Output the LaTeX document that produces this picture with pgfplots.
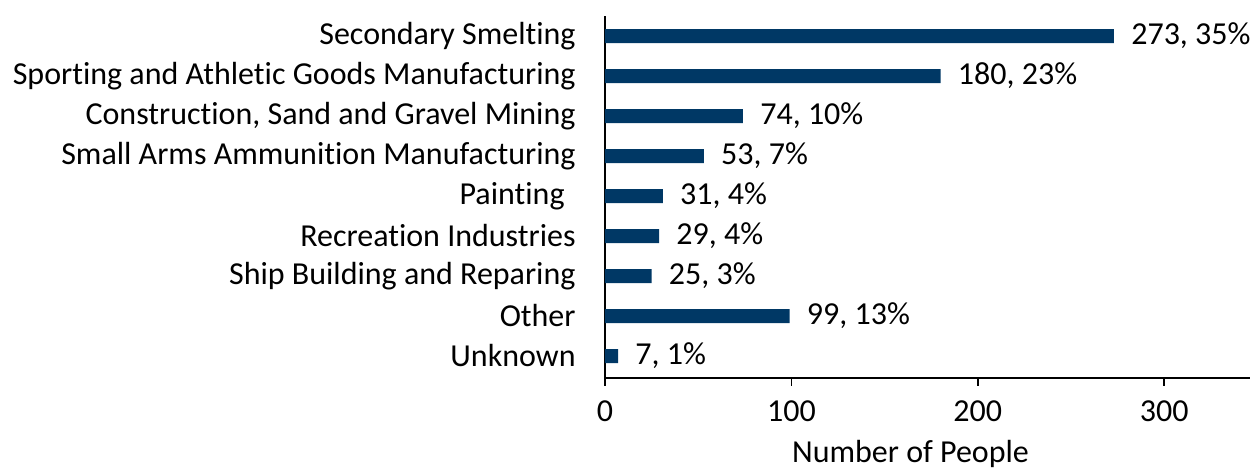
\documentclass[border=0pt]{standalone}
\usepackage{pgfplots}
\pgfplotsset{compat=1.18}
\usepackage{fontspec}
\setmainfont{Carlito}[Ligatures=NoCommon]
\definecolor{barblue}{RGB}{0,56,101}
\begin{document}
\begin{tikzpicture}[font=\fontsize{16}{18}\selectfont]
    \begin{axis}[
            name=ax,
            xbar,
            scale only axis,
            width=322.5pt,
            height=181pt,
            bar width=7pt,
            y dir=reverse,
            ymin=-0.5, ymax=8.55,
            xmin=0, xmax=346,
            ytick={0,...,8},
            yticklabels={Secondary Smelting,Sporting and Athletic Goods Manufacturing,{Construction, Sand and Gravel Mining},Small Arms Ammunition Manufacturing,Painting\kern5.5pt,Recreation Industries,Ship Building and Reparing,Other,Unknown},
            xtick={0,100,200,300},
            axis x line*=bottom,
            axis y line*=left,
            axis line style={black, line width=0.8pt},
            ytick style={draw=none},
            xtick style={black, line width=0.8pt},
            tick align=outside,
            major tick length=4pt,
            y tick label style={inner sep=0pt, xshift=-10.5pt},
            x tick label style={inner sep=0pt, yshift=-7pt},
            /pgf/number format/assume math mode=true,
            xlabel={Number of People},
            xlabel style={inner sep=0pt, yshift=-9pt, xshift=-8.5pt},
            point meta=explicit symbolic,
            nodes near coords,
            nodes near coords style={anchor=west, inner sep=0pt, xshift=8.5pt, black},
        ]
        \addplot[fill=barblue, draw=none] coordinates {
            (273,0) [{273, 35\%}]
            (180,1) [{180, 23\%}]
            (74,2) [{74, 10\%}]
            (53,3) [{53, 7\%}]
            (31,4) [{31, 4\%}]
            (29,5) [{29, 4\%}]
            (25,6) [{25, 3\%}]
            (99,7) [{99, 13\%}]
            (7,8) [{7, 1\%}]
        };
    \end{axis}
    \pgfresetboundingbox
    \path[use as bounding box] ([xshift=-302.5pt,yshift=-46pt]ax.south west) rectangle ([yshift=8pt]ax.north east);
\end{tikzpicture}
\end{document}
